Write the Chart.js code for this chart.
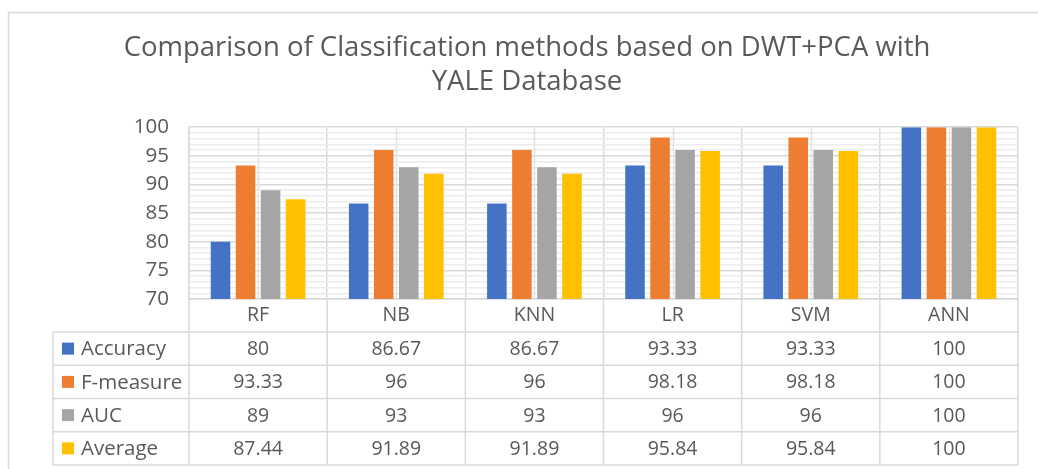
<!DOCTYPE html>
<html>
<head>
<meta charset="utf-8">
<script src="https://cdn.jsdelivr.net/npm/chart.js@4.4.1/dist/chart.umd.min.js"></script>
<style>
  html, body { margin: 0; padding: 0; background: #fff; }
  #wrap { width: 1038px; height: 469px; }
</style>
</head>
<body>
<div id="wrap"><canvas id="chart"></canvas></div>
<script>
const methods = ['RF', 'NB', 'KNN', 'LR', 'SVM', 'ANN'];
const accuracy = [80, 86.67, 86.67, 93.33, 93.33, 100];
const fMeasure = [93.33, 96, 96, 98.18, 98.18, 100];
const auc = [89, 93, 93, 96, 96, 100];
const average = [87.44, 91.89, 91.89, 95.84, 95.84, 100];
const yTicks = [70, 75, 80, 85, 90, 95, 100];

const TEXT = '#595959';
const LINE = '#d9d9d9';
const FONT = "'Open Sans', sans-serif";

// outer frame, centre gridlines and the data table under the x axis
const tablePlugin = {
  id: 'tablePlugin',
  beforeDraw(chart) {
    const ctx = chart.ctx;
    ctx.save();
    ctx.strokeStyle = LINE;
    ctx.lineWidth = 1.5;
    ctx.strokeRect(8.5, 12.5, 1100, 500);
    ctx.restore();
  },
  beforeDatasetsDraw(chart) {
    const ctx = chart.ctx;
    const xs = chart.scales.x;
    const area = chart.chartArea;
    ctx.save();
    ctx.strokeStyle = '#e2e2e2';
    ctx.lineWidth = 1.5;
    methods.forEach((m, i) => {
      const x = Math.round(xs.getPixelForValue(i)) + 0.5;
      ctx.beginPath();
      ctx.moveTo(x, area.top);
      ctx.lineTo(x, area.bottom);
      ctx.stroke();
    });
    ctx.restore();
  },
  afterDraw(chart) {
    const ctx = chart.ctx;
    const xs = chart.scales.x;
    const area = chart.chartArea;
    const tableLeft = area.left - 136;
    const headTop = area.bottom;
    const rowTop = headTop + 33;
    const bottom = xs.bottom;
    const rowH = (bottom - rowTop) / chart.data.datasets.length;
    const colW = xs.width / methods.length;

    ctx.save();
    ctx.strokeStyle = LINE;
    ctx.lineWidth = 1.5;
    // horizontal lines
    for (let r = 0; r <= chart.data.datasets.length; r++) {
      const y = rowTop + r * rowH;
      ctx.beginPath();
      ctx.moveTo(tableLeft, y);
      ctx.lineTo(area.right, y);
      ctx.stroke();
    }
    // vertical lines
    ctx.beginPath();
    ctx.moveTo(tableLeft, rowTop);
    ctx.lineTo(tableLeft, bottom);
    ctx.stroke();
    for (let c = 0; c <= methods.length; c++) {
      const x = area.left + c * colW;
      ctx.beginPath();
      ctx.moveTo(x, headTop);
      ctx.lineTo(x, bottom);
      ctx.stroke();
    }

    // row labels and values
    ctx.textBaseline = 'middle';
    chart.data.datasets.forEach((ds, r) => {
      const cy = rowTop + r * rowH + rowH / 2;
      ctx.fillStyle = ds.backgroundColor;
      ctx.fillRect(tableLeft + 9, cy - 6, 12, 12);
      ctx.fillStyle = TEXT;
      ctx.font = '20.5px ' + FONT;
      ctx.textAlign = 'left';
      ctx.fillText(ds.label, tableLeft + 28, cy + 1);
      ctx.font = '19.5px ' + FONT;
      ctx.textAlign = 'center';
      ds.data.forEach((v, c) => {
        ctx.fillText(String(v), xs.getPixelForValue(c), cy + 1);
      });
    });
    ctx.restore();
  }
};

new Chart(document.getElementById('chart'), {
  type: 'bar',
  data: {
    labels: methods,
    datasets: [
      { label: 'Accuracy', data: accuracy, backgroundColor: '#4472C4' },
      { label: 'F-measure', data: fMeasure, backgroundColor: '#ED7D31' },
      { label: 'AUC', data: auc, backgroundColor: '#A5A5A5' },
      { label: 'Average', data: average, backgroundColor: '#FFC000' }
    ]
  },
  options: {
    responsive: true,
    maintainAspectRatio: false,
    animation: false,
    categoryPercentage: 0.725,
    barPercentage: 0.78,
    layout: { padding: { left: 36, right: 20, top: 0, bottom: 4 } },
    plugins: {
      legend: { display: false },
      tooltip: { enabled: false },
      title: {
        display: true,
        text: ['Comparison of Classification methods based on DWT+PCA with', 'YALE Database'],
        color: TEXT,
        font: { family: FONT, size: 27.5, weight: 'normal', lineHeight: 1.24 },
        padding: { top: 31, bottom: 28 }
      }
    },
    scales: {
      x: {
        grid: { offset: true, color: LINE, lineWidth: 1.5, drawTicks: false },
        border: { color: LINE, width: 1.5 },
        ticks: { color: TEXT, font: { family: FONT, size: 19.5 }, padding: 5 },
        afterFit(scale) { scale.height = 166; }
      },
      y: {
        min: 70,
        max: 100,
        afterBuildTicks(scale) {
          const t = [];
          for (let v = 70; v <= 100; v++) t.push({ value: v });
          scale.ticks = t;
        },
        grid: {
          drawTicks: false,
          lineWidth: 1.5,
          color: ctx => (yTicks.includes(ctx.tick.value) ? LINE : '#ececec')
        },
        border: { color: LINE, width: 1.5 },
        ticks: {
          color: TEXT,
          autoSkip: false,
          padding: 20,
          font: { family: FONT, size: 20.5 },
          callback: v => (yTicks.includes(v) ? v : '')
        },
        afterFit(scale) { scale.width = 153; }
      }
    }
  },
  plugins: [tablePlugin]
});
</script>
</body>
</html>
